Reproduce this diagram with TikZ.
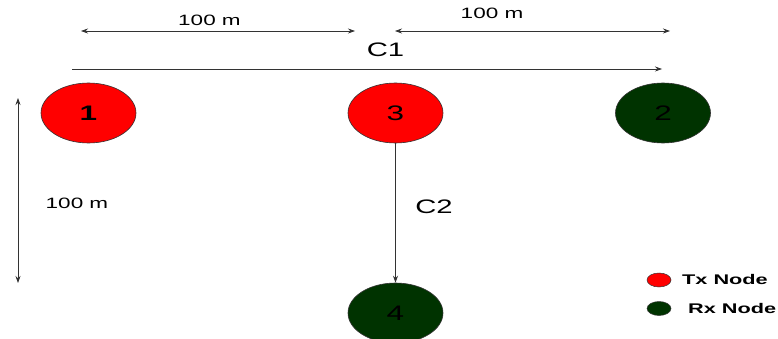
\documentclass[tikz,border=0pt]{standalone}
\usepackage{fontspec}
\setmainfont{Liberation Sans}
\usetikzlibrary{shapes.geometric,arrows.meta}
\definecolor{rxgreen}{HTML}{003300}
\definecolor{linegray}{HTML}{333333}
\tikzset{
  x=1pt,y=-1pt,
  netnode/.style={ellipse,draw=linegray,line width=0.6pt,minimum width=95pt,minimum height=60pt,inner sep=0pt},
  txnode/.style={netnode,fill=red},
  rxnode/.style={netnode,fill=rxgreen},
  legnode/.style={ellipse,draw=linegray,line width=0.5pt,minimum width=24pt,minimum height=14pt,inner sep=0pt},
  conn/.style={draw=linegray,line width=0.7pt,-{Stealth[length=7pt,width=5pt]}},
  dim/.style={draw=linegray,line width=0.7pt,{Stealth[length=7pt,width=5pt]}-{Stealth[length=7pt,width=5pt]}},
  lab/.style={inner sep=0pt,font=\fontsize{15}{17}\selectfont},
  numfont/.style={font=\fontsize{21}{23}\selectfont},
}
\newcommand{\wide}[1]{\scalebox{1.5}[1]{#1}}
\begin{document}
\begin{tikzpicture}
\useasboundingbox (0,0) rectangle (778,339);
% nodes
\node[txnode,numfont] (n1) at (88.5,113) {\wide{\textbf{1}}};
\node[txnode,numfont] (n3) at (395.5,113) {\wide{3}};
\node[rxnode,numfont] (n2) at (663,113) {\wide{2}};
\node[rxnode,numfont] (n4) at (395.5,313) {\wide{4}};
% dimension arrows
\coordinate (d1a) at (81,31);
\coordinate (d1b) at (355,31);
\coordinate (d2a) at (395,31);
\coordinate (d2b) at (670,31);
\coordinate (c1a) at (72,69);
\coordinate (c1b) at (662,69);
\coordinate (dva) at (18,98);
\coordinate (dvb) at (18,283);
\draw[dim] (d1a) -- (d1b);
\draw[dim] (d2a) -- (d2b);
\draw[conn] (c1a) -- (c1b);
\draw[dim] (dva) -- (dvb);
\draw[conn] (n3) -- (n4);
% labels
\node[lab] (t1) at (209.5,20.5) {\wide{100 m}};
\node[lab] (t2) at (492,13.5) {\wide{100 m}};
\node[lab,font=\fontsize{19.5}{21}\selectfont] (tc1) at (385.5,49.5) {\wide{C1}};
\node[lab] (t3) at (77,203) {\wide{100 m}};
\node[lab,font=\fontsize{19.5}{21}\selectfont] (tc2) at (434,206.5) {\wide{C2}};
% legend
\node[legnode,fill=red] (ltx) at (659,280) {};
\node[legnode,fill=rxgreen] (lrx) at (659,308.5) {};
\node[lab,anchor=west,font=\fontsize{14}{16}\selectfont\bfseries] (ttx) at (682,279) {\scalebox{1.55}[1]{Tx Node}};
\node[lab,anchor=west,font=\fontsize{14}{16}\selectfont\bfseries] (trx) at (688,308) {\scalebox{1.55}[1]{Rx Node}};
\end{tikzpicture}
\end{document}
